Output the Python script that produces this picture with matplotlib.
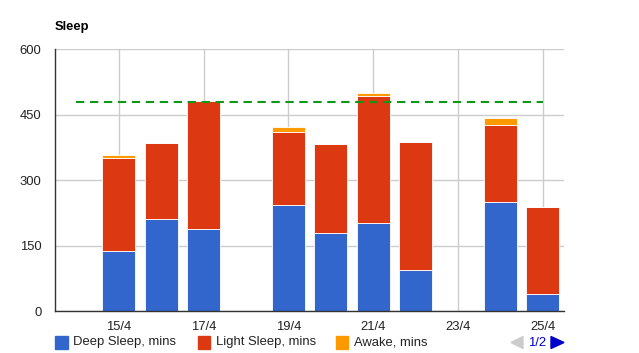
import numpy as np
import matplotlib
matplotlib.use("Agg")
import matplotlib.pyplot as plt
from matplotlib.patches import Rectangle, Polygon

plt.rcParams['font.family'] = ['Liberation Sans', 'DejaVu Sans']

# data (minutes per night)
days = ["14/4", "15/4", "16/4", "17/4", "18/4", "19/4", "20/4",
        "21/4", "22/4", "23/4", "24/4", "25/4"]
deep_sleep = [0, 137, 212, 187, 0, 243, 179, 201, 95, 0, 249, 38]
light_sleep = [0, 213, 173, 294, 0, 168, 203, 292, 292, 0, 177, 200]
awake = [0, 7, 0, 0, 0, 10, 0, 6, 0, 0, 16, 0]
target = [480] * len(days)
series_names = ["Deep Sleep, mins", "Light Sleep, mins", "Awake, mins"]
y_ticks = [0, 150, 300, 450, 600]

colors = ["#3366cc", "#dc3912", "#ff9900"]
W, H = 639, 353

def fx(px):
    return px / W

def fy(py):
    return 1 - py / H

fig = plt.figure(figsize=(W / 100, H / 100), dpi=100)
ax = fig.add_axes([fx(55.3), fy(311), fx(564) - fx(55.3), fy(49.3) - fy(311)])

x = np.arange(len(days))
bottom = np.zeros(len(days))
for vals, c in zip([deep_sleep, light_sleep, awake], colors):
    v = np.array(vals, dtype=float)
    ax.bar(x, v, 0.78, bottom=bottom, color=c, edgecolor="white", linewidth=0.6, zorder=3)
    bottom += v

line, = ax.plot(x, target, color="#109618", lw=1.5, zorder=4)
line.set_dashes((4.0, 2.7))

ax.set_xlim(-0.5, len(days) - 0.5)
ax.set_ylim(0, 600)
ax.set_yticks(y_ticks)
ax.set_xticks(x[1::2])
ax.set_xticklabels(days[1::2])
ax.grid(True, color="#cccccc", lw=1.0, zorder=0)
ax.set_axisbelow(True)
ax.tick_params(length=0, labelsize=9.4, labelcolor="#222222")
ax.tick_params(axis="y", pad=10)
ax.tick_params(axis="x", pad=7)
for s in ["top", "right"]:
    ax.spines[s].set_visible(False)
for s in ["left", "bottom"]:
    ax.spines[s].set_color("#333333")
    ax.spines[s].set_linewidth(1.0)
    ax.spines[s].set_zorder(5)

fig.text(fx(55), fy(27), "Sleep", fontsize=9.4, fontweight="bold", va="center", ha="left")

# legend along the bottom
leg_x = [55.3, 197.7, 336]
for lx, name, c in zip(leg_x, series_names, colors):
    fig.patches.append(Rectangle((fx(lx), fy(348.7)), fx(12.5), fy(336) - fy(348.7),
                                 transform=fig.transFigure, color=c))
    fig.text(fx(lx + 18), fy(342.5), name, fontsize=9.4, color="#222222", va="center", ha="left")

# page arrows
fig.patches.append(Polygon([(fx(511), fy(342.5)), (fx(523), fy(336.5)), (fx(523), fy(348.5))],
                           closed=True, transform=fig.transFigure, color="#cccccc"))
fig.text(fx(537), fy(342.5), "1/2", fontsize=9.4, color="#0000cc", va="center", ha="center")
fig.patches.append(Polygon([(fx(564), fy(342.5)), (fx(551), fy(336.5)), (fx(551), fy(348.5))],
                           closed=True, transform=fig.transFigure, color="#0000cc"))

fig.savefig("out.png", dpi=100)
